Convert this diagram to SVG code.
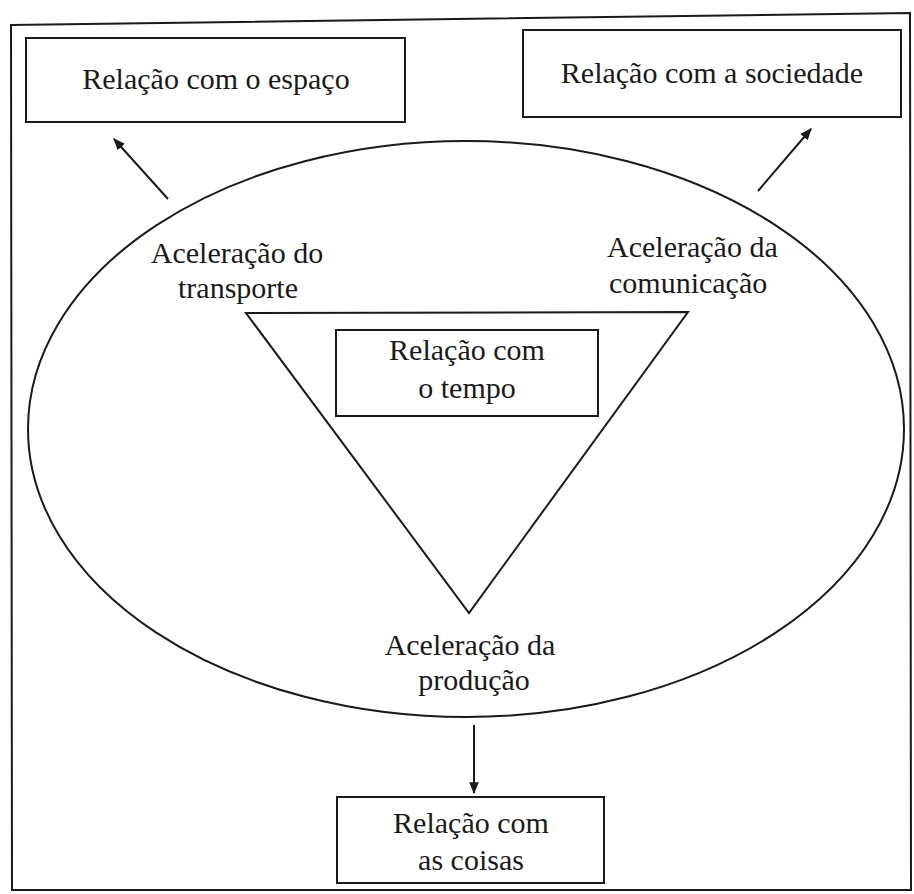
<svg xmlns="http://www.w3.org/2000/svg" width="914" height="894" viewBox="0 0 914 894">
  <defs>
    <marker id="ah" viewBox="0 0 10 10" refX="9" refY="5" markerWidth="6" markerHeight="6" orient="auto" markerUnits="strokeWidth">
      <path d="M0,1 L10,5 L0,9 Z" fill="#1a1a1a"/>
    </marker>
    <style>
      .ln { fill: none; stroke: #1a1a1a; stroke-width: 2; }
      .bx { fill: #ffffff; stroke: #1a1a1a; stroke-width: 2; }
      .t { font-family: "Liberation Serif", "DejaVu Serif", serif; font-size: 30px; fill: #1a1a1a; }
      .c { text-anchor: middle; }
    </style>
  </defs>
  <rect width="914" height="894" fill="#ffffff"/>
  <g id="frame">
    <path class="ln" d="M11,25 L910,13 L911,890 L12,890 Z"/>
  </g>
  <g id="ellipse">
    <ellipse class="ln" cx="466" cy="429" rx="438" ry="288"/>
  </g>
  <g id="triangle">
    <path class="ln" d="M246,313 L688,312 L469,613 Z"/>
  </g>
  <g id="connectors">
    <line class="ln" x1="168" y1="199" x2="114" y2="139" marker-end="url(#ah)"/>
    <line class="ln" x1="758" y1="191" x2="811" y2="129" marker-end="url(#ah)"/>
    <line class="ln" x1="474" y1="725" x2="474" y2="793" marker-end="url(#ah)"/>
  </g>
  <g id="espaco">
    <rect class="bx" x="26" y="38" width="379" height="84"/>
    <text class="t c" x="216" y="89">Relação com o espaço</text>
  </g>
  <g id="sociedade">
    <rect class="bx" x="523" y="30" width="378" height="87"/>
    <text class="t c" x="712" y="83">Relação com a sociedade</text>
  </g>
  <g id="transporte">
    <text class="t c" x="237" y="263">Aceleração do</text>
    <text class="t c" x="238" y="298">transporte</text>
  </g>
  <g id="comunicacao">
    <text class="t" x="607" y="257">Aceleração da</text>
    <text class="t" x="609" y="293">comunicação</text>
  </g>
  <g id="tempo">
    <rect class="bx" x="336" y="330" width="262" height="86"/>
    <text class="t c" x="467" y="360">Relação com</text>
    <text class="t c" x="467" y="398">o tempo</text>
  </g>
  <g id="producao">
    <text class="t c" x="470" y="655">Aceleração da</text>
    <text class="t c" x="474" y="690">produção</text>
  </g>
  <g id="coisas">
    <rect class="bx" x="337" y="797" width="267" height="86"/>
    <text class="t c" x="471" y="833">Relação com</text>
    <text class="t c" x="471" y="870">as coisas</text>
  </g>
</svg>
